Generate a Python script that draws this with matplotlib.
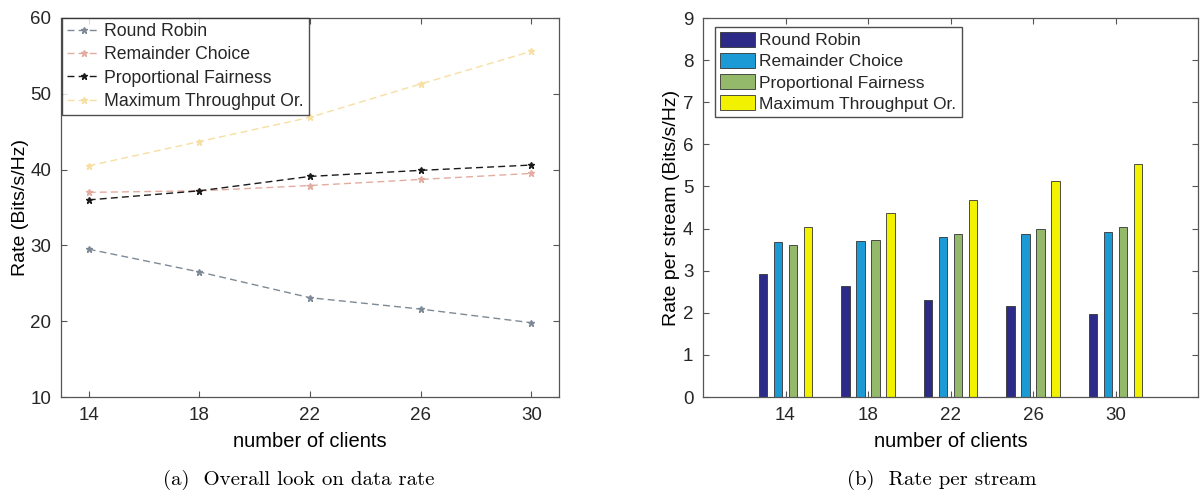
import numpy as np
import matplotlib
matplotlib.use("Agg")
from matplotlib import pyplot as plt
from matplotlib.patches import Patch

# data
clients = [14, 18, 22, 26, 30]
schemes = ["Round Robin", "Remainder Choice", "Proportional Fairness", "Maximum Throughput Or."]

rate_rr = [29.5, 26.5, 23.1, 21.6, 19.8]
rate_rc = [37.0, 37.2, 37.9, 38.7, 39.5]
rate_pf = [36.0, 37.2, 39.1, 39.9, 40.6]
rate_mt = [40.5, 43.7, 46.9, 51.3, 55.6]

stream_rr = [2.93, 2.64, 2.31, 2.15, 1.98]
stream_rc = [3.68, 3.71, 3.79, 3.86, 3.92]
stream_pf = [3.60, 3.72, 3.88, 3.99, 4.04]
stream_mt = [4.04, 4.36, 4.67, 5.12, 5.54]

line_colors = ["#7d8a96", "#e3aca0", "#1a1a1a", "#f6dfa0"]
bar_colors = ["#2c2c88", "#1b9ad6", "#95b96b", "#f2f200"]

plt.rcParams["font.family"] = ["Liberation Sans", "DejaVu Sans"]
plt.rcParams["text.color"] = "#262626"

W, H = 1200, 493
fig = plt.figure(figsize=(12, 4.93), dpi=100)


def style_axes(ax):
    for s in ax.spines.values():
        s.set_color("#555555")
        s.set_linewidth(0.9)
    ax.tick_params(direction="in", length=4, width=0.8, colors="#555555",
                   labelcolor="#262626", labelsize=13.5, pad=7,
                   top=True, right=True)


# (a) overall rate
ax1 = fig.add_axes([61 / W, 1 - 397 / H, (559 - 61) / W, (397 - 18) / H])
series = [rate_rr, rate_rc, rate_pf, rate_mt]
for vals, c, name in zip(series, line_colors, schemes):
    ax1.plot(clients, vals, linestyle="--", color=c, lw=1.0,
             marker="*", markersize=5, label=name, dashes=(5, 3))
ax1.set_xlim(13, 31)
ax1.set_ylim(10, 60)
ax1.set_xticks(clients)
ax1.set_yticks([10, 20, 30, 40, 50, 60])
style_axes(ax1)
ax1.set_xlabel("number of clients", fontsize=14.5, labelpad=6)
ax1.set_ylabel("Rate (Bits/s/Hz)", fontsize=14, labelpad=1)
ax1.legend(loc="upper left", bbox_to_anchor=(62 / W, 1 - 18 / H),
           bbox_transform=fig.transFigure, borderaxespad=0, fontsize=12.7,
           frameon=True, fancybox=False, edgecolor="#222222",
           handlelength=1.9, handletextpad=0.2, labelspacing=0.36,
           borderpad=0.28)

# (b) rate per stream
ax2 = fig.add_axes([703 / W, 1 - 397 / H, (1198 - 703) / W, (397 - 18) / H])
pos = np.arange(1, len(clients) + 1)
bar_series = [stream_rr, stream_rc, stream_pf, stream_mt]
step = 0.182
for i, (vals, c) in enumerate(zip(bar_series, bar_colors)):
    ax2.bar(pos + (i - 1.5) * step, vals, width=0.105, color=c,
            edgecolor="#333333", linewidth=0.6)
ax2.set_xlim(0, 6)
ax2.set_ylim(0, 9)
ax2.set_xticks(pos)
ax2.set_xticklabels(clients)
ax2.set_yticks(range(10))
style_axes(ax2)
ax2.set_xlabel("number of clients", fontsize=14.5, labelpad=6)
ax2.set_ylabel("Rate per stream (Bits/s/Hz)", fontsize=14, labelpad=2)
handles = [Patch(facecolor=c, edgecolor="#333333", linewidth=0.6) for c in bar_colors]
ax2.legend(handles, schemes, loc="upper left",
           bbox_to_anchor=(715 / W, 1 - 27 / H), bbox_transform=fig.transFigure,
           borderaxespad=0, fontsize=12.5, frameon=True, fancybox=False,
           edgecolor="#222222", handlelength=2.0, handleheight=0.9,
           handletextpad=0.25, labelspacing=0.28, borderpad=0.3)

# subfigure captions
fig.text(299 / W, 1 - 480 / H, "(a)  Overall look on data rate", family="cmr10",
         fontsize=15, ha="center", va="center", color="black")
fig.text(942 / W, 1 - 480 / H, "(b)  Rate per stream", family="cmr10",
         fontsize=15, ha="center", va="center", color="black")

fig.savefig("out.png", dpi=100, facecolor="white")
